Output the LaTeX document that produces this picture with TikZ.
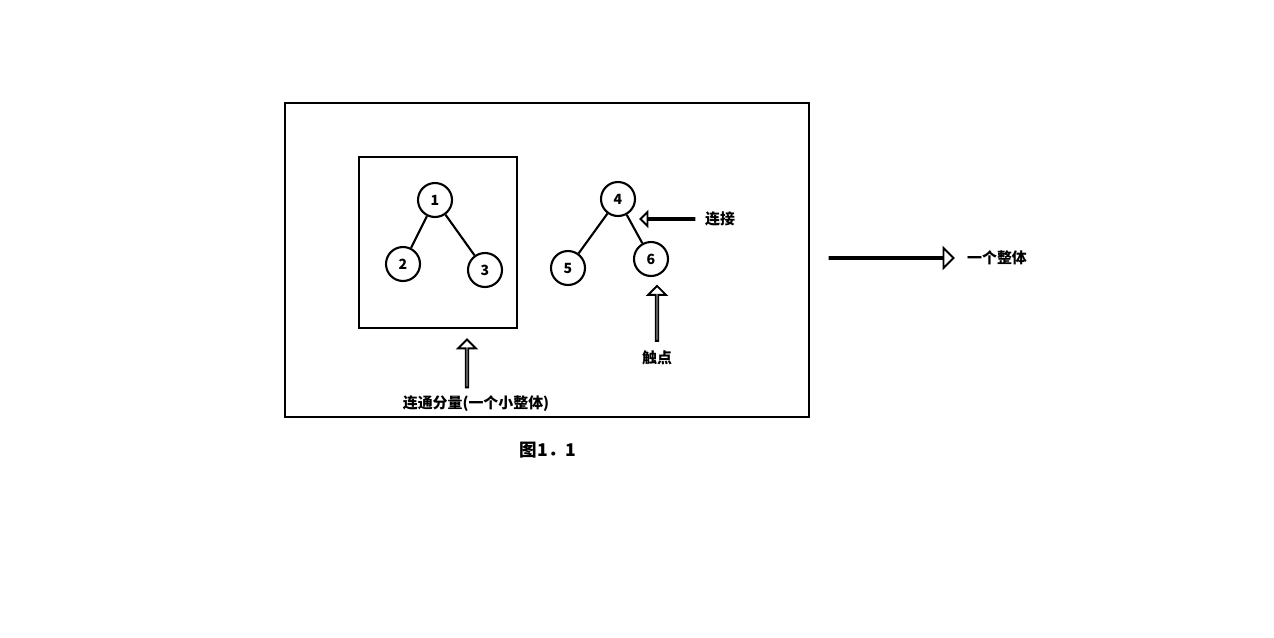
\documentclass[tikz,border=0pt]{standalone}
\usepackage{fontspec}
\setmainfont{Noto Sans CJK SC}
\usetikzlibrary{shapes.arrows}

\begin{document}
\begin{tikzpicture}[x=0.02cm,y=-0.02cm,line width=1.2pt]
    \tikzset{vertex/.style={circle,draw,minimum size=0.68cm,inner sep=0pt,font=\fontsize{8}{9}\selectfont\bfseries},
             hollow/.style={single arrow,draw,line width=1.1pt,inner sep=0pt,single arrow head extend=0.12cm},
             label/.style={font=\fontsize{8.5}{10}\selectfont\bfseries}}
    \useasboundingbox (0,0) rectangle (1274,637);

    \draw[line width=1.6pt] (285,103) rectangle (809,417);
    \draw (359,157) rectangle (517,328);

    \node[vertex] (n1) at (435,200) {1};
    \node[vertex] (n2) at (403,264) {2};
    \node[vertex] (n3) at (485,270) {3};
    \node[vertex] (n4) at (618,199) {4};
    \node[vertex] (n5) at (568,268) {5};
    \node[vertex] (n6) at (651,259) {6};
    \draw (n1) -- (n2) (n1) -- (n3) (n4) -- (n5) (n4) -- (n6);

    \node[hollow,minimum width=0.16cm,minimum height=1.08cm,shape border rotate=180] (link) at (668,219) {};
    \node[label] (linktext) at (720,219) {连接};
    \node[hollow,minimum width=0.36cm,minimum height=1.1cm,shape border rotate=90] (touch) at (657,314) {};
    \node[label] (touchtext) at (657,358) {触点};
    \node[hollow,minimum width=0.36cm,minimum height=0.96cm,shape border rotate=90] (comp) at (467,364) {};
    \node[label] (comptext) at (476,404) {连通分量(一个小整体)};
    \node[hollow,minimum width=0.38cm,minimum height=2.48cm,single arrow head extend=0.18cm] (whole) at (891,258) {};
    \node[label] (wholetext) at (997,258) {一个整体};
    \node[font=\fontsize{10}{12}\selectfont\bfseries] (cap) at (548,450) {图1．1};
\end{tikzpicture}
\end{document}
